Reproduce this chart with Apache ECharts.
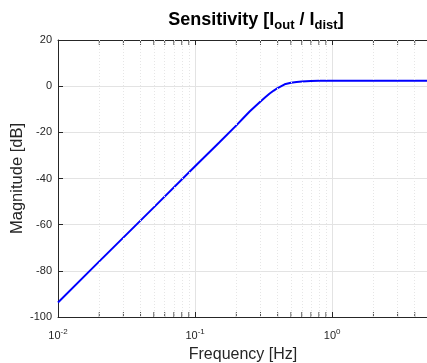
<!DOCTYPE html>
<html>
<head>
<meta charset="utf-8">
<script src="https://cdn.jsdelivr.net/npm/echarts@6/dist/echarts.min.js"></script>
<style>
  html, body { margin: 0; padding: 0; background: #fff; }
  #chart { width: 427px; height: 363px; }
</style>
</head>
<body>
<div id="chart"></div>
<script>
// sensitivity magnitude
const freqHz = [0.01, 0.02, 0.05, 0.1, 0.15, 0.2, 0.225, 0.25, 0.275, 0.3, 0.325, 0.35, 0.375,
  0.4, 0.45, 0.5, 0.55, 0.6, 0.7, 0.8, 1, 2, 5];
const magDb = [-93.7, -75.9, -52.5, -34.7, -24.4, -17.0, -13.8, -11.0, -8.7, -6.6, -4.8, -3.2, -1.9,
  -0.8, 0.8, 1.5, 1.85, 2.05, 2.25, 2.35, 2.4, 2.4, 2.4];
const minorFreqs = [0.02, 0.03, 0.04, 0.05, 0.06, 0.07, 0.08, 0.09,
  0.2, 0.3, 0.4, 0.5, 0.6, 0.7, 0.8, 0.9, 2, 3, 4];

const ink = '#262626';
const font = '"Liberation Sans", Arial, sans-serif';

const chart = echarts.init(document.getElementById('chart'));

// short inward ticks for the minor decades, bottom and top of the box
const minorMarks = [];
minorFreqs.forEach(f => {
  minorMarks.push({ value: [f, -100], symbolOffset: [0, -2.5] });
  minorMarks.push({ value: [f, 20], symbolOffset: [0, 2.5] });
});

const decadeLabel = v => {
  const e = Math.log10(v);
  if (Math.abs(e - Math.round(e)) > 1e-6) return '';
  return '{b|10}{s|' + Math.round(e) + '}';
};

const option = {
  animation: false,
  textStyle: { fontFamily: font },
  title: {
    text: '{t|Sensitivity [I}{s|out}{t| / I}{s|dist}{t|]}',
    left: 251,
    textAlign: 'center',
    top: 4,
    textStyle: {
      rich: {
        t: { fontSize: 18, fontWeight: 'bold', color: '#000', fontFamily: font, lineHeight: 22 },
        s: { fontSize: 13, fontWeight: 'bold', color: '#000', fontFamily: font, verticalAlign: 'bottom', padding: [10, 0, 0, 0] }
      }
    }
  },
  grid: { left: 58, right: -1, top: 40, bottom: 46, outerBoundsMode: 'none' },
  xAxis: [{
    type: 'log',
    logBase: 10,
    min: 0.01,
    max: 5,
    name: 'Frequency [Hz]',
    nameLocation: 'middle',
    nameGap: 28,
    nameTextStyle: { fontSize: 16, color: ink },
    axisLine: { onZero: false, lineStyle: { color: ink, width: 1 } },
    axisTick: { inside: true, length: 5, lineStyle: { color: ink } },
    splitLine: { show: true, lineStyle: { color: '#e3e3e3', width: 1 } },
    axisLabel: {
      color: ink,
      margin: 11,
      formatter: decadeLabel,
      rich: {
        b: { fontSize: 11, color: ink, fontFamily: font, lineHeight: 16 },
        s: { fontSize: 8, color: ink, fontFamily: font, verticalAlign: 'top', padding: [0, 0, 8, 0] }
      }
    }
  }, {
    type: 'log',
    logBase: 10,
    min: 0.01,
    max: 5,
    position: 'top',
    axisLine: { onZero: false, lineStyle: { color: ink, width: 1 } },
    axisTick: { inside: true, length: 5, lineStyle: { color: ink } },
    axisLabel: { show: false },
    splitLine: { show: false }
  }],
  yAxis: [{
    type: 'value',
    min: -100,
    max: 20,
    interval: 20,
    name: 'Magnitude [dB]',
    nameLocation: 'middle',
    nameGap: 32,
    nameMoveOverlap: false,
    nameTextStyle: { fontSize: 16.5, color: ink },
    axisLine: { show: true, lineStyle: { color: ink, width: 1 } },
    axisTick: { show: true, inside: true, length: 5, lineStyle: { color: ink } },
    axisLabel: { color: ink, fontSize: 11, margin: 6 },
    splitLine: { show: true, lineStyle: { color: '#e3e3e3', width: 1 } }
  }],
  series: [{
    type: 'line',
    silent: true,
    data: [],
    markLine: {
      silent: true,
      symbol: 'none',
      label: { show: false },
      lineStyle: { color: '#e6e6e6', type: [1, 2], width: 1 },
      data: minorFreqs.map(f => ({ xAxis: f }))
    }
  }, {
    type: 'scatter',
    silent: true,
    symbol: 'rect',
    symbolSize: [1, 5],
    itemStyle: { color: ink },
    data: minorMarks
  }, {
    name: 'Sensitivity',
    type: 'line',
    showSymbol: false,
    lineStyle: { color: '#0000ff', width: 2 },
    data: freqHz.map((f, i) => [f, magDb[i]])
  }]
};

chart.setOption(option);
</script>
</body>
</html>
